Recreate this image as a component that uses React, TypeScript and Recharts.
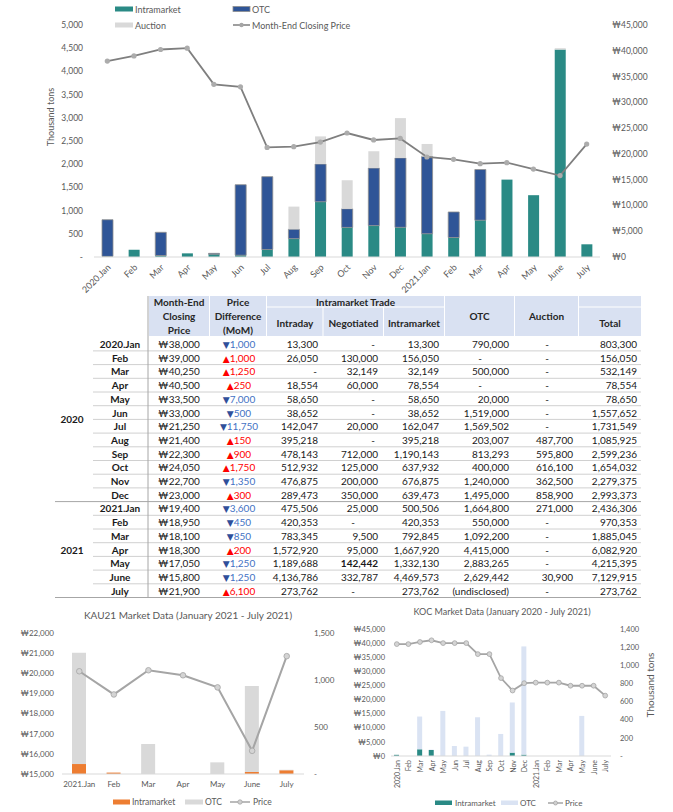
import React from 'react';
import { ComposedChart, Bar, Line, XAxis, YAxis } from 'recharts';

const FONT = "Lato, 'Noto Sans', 'DejaVu Sans', sans-serif";
const GREY_TXT = '#595959';

// ---------- shared categories ----------
const months = ['2020.Jan', 'Feb', 'Mar', 'Apr', 'May', 'Jun', 'Jul', 'Aug', 'Sep', 'Oct', 'Nov', 'Dec',
  '2021.Jan', 'Feb', 'Mar', 'Apr', 'May', 'June', 'July'];

// ---------- table values ----------
const closingPrice = [38000, 39000, 40250, 40500, 33500, 33000, 21250, 21400, 22300, 24050, 22700, 23000,
  19400, 18950, 18100, 18300, 17050, 15800, 21900];
const priceDiff = [-1000, 1000, 1250, 250, -7000, -500, -11750, 150, 900, 1750, -1350, 300,
  -3600, -450, -850, 200, -1250, -1250, 6100];
const intradayT = [13300, 26050, null, 18554, 58650, 38652, 142047, 395218, 478143, 512932, 476875, 289473,
  475506, 420353, 783345, 1572920, 1189688, 4136786, 273762];
const negotiatedT = [null, 130000, 32149, 60000, null, null, 20000, null, 712000, 125000, 200000, 350000,
  25000, null, 9500, 95000, 142442, 332787, null];
const intramarketT = [13300, 156050, 32149, 78554, 58650, 38652, 162047, 395218, 1190143, 637932, 676875, 639473,
  500506, 420353, 792845, 1667920, 1332130, 4469573, 273762];
const otcT = [790000, null, 500000, null, 20000, 1519000, 1569502, 203007, 813293, 400000, 1240000, 1495000,
  1664800, 550000, 1092200, 4415000, 2883265, 2629442, '(undisclosed)'];
const auctionT = [null, null, null, null, null, null, null, 487700, 595800, 616100, 362500, 858900,
  271000, null, null, null, null, 30900, null];
const totalT = [803300, 156050, 532149, 78554, 78650, 1557652, 1731549, 1085925, 2599236, 1654032, 2279375, 2993373,
  2436306, 970353, 1885045, 6082920, 4215395, 7129915, 273762];

// ---------- top chart (thousand tons) ----------
const topIntra = [13.3, 156.1, 32.1, 78.6, 58.7, 38.7, 162.0, 395.2, 1190.1, 637.9, 676.9, 639.5,
  500.5, 420.4, 792.8, 1667.9, 1332.1, 4469.6, 273.8];
const topOtc = [790, 0, 500, 0, 20, 1519, 1569.5, 203.0, 813.3, 400, 1240, 1495,
  1664.8, 550, 1092.2, 0, 0, 0, 0];
const topAuction = [0, 0, 0, 0, 0, 0, 0, 487.7, 595.8, 616.1, 362.5, 858.9,
  271, 0, 0, 0, 0, 30.9, 0];
const topLeftTicks = [0, 500, 1000, 1500, 2000, 2500, 3000, 3500, 4000, 4500, 5000];
const topRightTicks = [0, 5000, 10000, 15000, 20000, 25000, 30000, 35000, 40000, 45000];

// ---------- KAU21 chart ----------
const kauMonths = ['2021.Jan', 'Feb', 'Mar', 'Apr', 'May', 'June', 'July'];
const kauIntra = [106, 15, 0, 0, 0, 20, 40];
const kauOtc = [1185, 0, 319, 0, 124, 916, 5];
const kauPrice = [20100, 18950, 20150, 19900, 19300, 16150, 20850];
const kauLeftTicks = [15000, 16000, 17000, 18000, 19000, 20000, 21000, 22000];
const kauRightTicks = [0, 500, 1000, 1500];

// ---------- KOC chart ----------
const kocIntra = [13, 0, 74, 66, 0, 0, 0, 0, 0, 0, 37, 15, 0, 0, 0, 0, 0, 0, 0];
const kocOtc = [0, 0, 361, 4, 497, 110, 103, 427, 15, 243, 553, 1193, 0, 0, 0, 0, 442, 0, 0];
const kocPrice = [39650, 39650, 40400, 41000, 40000, 40000, 40000, 36100, 36100, 27600, 23200, 25800,
  26000, 26000, 26000, 24900, 24900, 24900, 21400];
const kocLeftTicks = [0, 5000, 10000, 15000, 20000, 25000, 30000, 35000, 40000, 45000];
const kocRightTicks = [0, 200, 400, 600, 800, 1000, 1200, 1400];

const won = (v: number) => '₩' + v.toLocaleString('en-US');
const num = (v: number) => (v === 0 ? '-' : v.toLocaleString('en-US'));

const TopTick = (props: any) => {
  const { x, y, payload } = props;
  return (
    <g transform={`translate(${x + 4},${y + 11})`}>
      <text textAnchor="end" transform="rotate(-45)" fontSize={9} fill={GREY_TXT} fontFamily={FONT}>
        {payload.value}
      </text>
    </g>
  );
};

const KocTick = (props: any) => {
  const { x, y, payload } = props;
  return (
    <g transform={`translate(${x + 3},${y + 4})`}>
      <text textAnchor="end" transform="rotate(-90)" fontSize={7} fill={GREY_TXT} fontFamily={FONT}>
        {payload.value}
      </text>
    </g>
  );
};

// table geometry (style only)
const ROW0 = 337.2;
const ROWH = 13.7;

function Table() {
  const els: any[] = [];
  const hdr = '#d9e1f2';
  const cells = [
    [149, 296, 60, 40], [210, 296, 56, 40],
    [267, 296, 177, 10.5],
    [267, 307.5, 55.5, 28.5], [323.5, 307.5, 59.5, 28.5], [384, 307.5, 60, 28.5],
    [445, 296, 69, 40], [515, 296, 63, 40],
    [579, 296, 62, 10.5], [579, 307.5, 62, 28.5],
  ];
  cells.forEach((c, i) => els.push(<rect key={'h' + i} x={c[0]} y={c[1]} width={c[2]} height={c[3]} fill={hdr} />));
  const hText = (k: string, x: number, y: number, t: string) =>
    els.push(<text key={k} x={x} y={y} textAnchor="middle" dominantBaseline="central" fontSize={10} fontWeight="bold" fill="#262626">{t}</text>);
  hText('a1', 179, 302, 'Month-End'); hText('a2', 179, 316, 'Closing'); hText('a3', 179, 329.5, 'Price');
  hText('b1', 238, 302, 'Price'); hText('b2', 238, 316, 'Difference'); hText('b3', 238, 329.5, '(MoM)');
  hText('c0', 355.5, 302, 'Intramarket Trade');
  hText('c1', 295, 323, 'Intraday'); hText('c2', 353.5, 323, 'Negotiated'); hText('c3', 414, 323, 'Intramarket');
  hText('d0', 479.5, 316, 'OTC'); hText('e0', 546.5, 316, 'Auction'); hText('f0', 610, 323, 'Total');

  for (let k = 1; k <= 19; k++) {
    const y = ROW0 + ROWH * k;
    const full = k === 12 || k === 19;
    els.push(<line key={'l' + k} x1={full ? 55 : 93} x2={641} y1={y} y2={y} stroke={full ? '#a6a6a6' : '#d0d0d0'} strokeWidth={1} />);
  }
  els.push(<line key="vl" x1={148} x2={148} y1={296} y2={ROW0 + ROWH * 19} stroke="#a6a6a6" strokeWidth={1} />);

  els.push(<text key="y20" x={72} y={(ROW0 + ROW0 + ROWH * 12) / 2} textAnchor="middle" dominantBaseline="central" fontSize={10} fontWeight="bold" fill="#1a1a1a">2020</text>);
  els.push(<text key="y21" x={72} y={(ROW0 + ROWH * 12 + ROW0 + ROWH * 19) / 2} textAnchor="middle" dominantBaseline="central" fontSize={10} fontWeight="bold" fill="#1a1a1a">2021</text>);

  const cellTxt = (k: string, x: number, y: number, t: string, anchor: string, bold?: boolean) =>
    els.push(<text key={k} x={x} y={y} textAnchor={anchor} dominantBaseline="central" fontSize={10} fontWeight={bold ? 'bold' : 'normal'} fill="#1a1a1a">{t}</text>);

  months.forEach((m, i) => {
    const cy = ROW0 + ROWH * i + ROWH / 2;
    cellTxt('m' + i, 120, cy, m, 'middle', true);
    cellTxt('p' + i, 179, cy, won(closingPrice[i]), 'middle');
    const d = priceDiff[i];
    const up = d > 0;
    els.push(
      <text key={'d' + i} x={239} y={cy} textAnchor="middle" dominantBaseline="central" fontSize={10}>
        <tspan fill={up ? '#ff0000' : '#2f4f9a'} fontSize={9}>{up ? '▲' : '▼'}</tspan>
        <tspan fill={up ? '#ff0000' : '#4472c4'}>{Math.abs(d).toLocaleString('en-US')}</tspan>
      </text>
    );
    const put = (key: string, v: any, right: number, dashX: number) => {
      if (v == null) cellTxt(key, dashX, cy, '-', 'middle');
      else cellTxt(key, right, cy, typeof v === 'string' ? v : v.toLocaleString('en-US'), 'end', key === 'ng16');
    };
    put('it' + i, intradayT[i], 318, 315);
    put('ng' + i, negotiatedT[i], 378, i >= 12 ? 353 : 373);
    put('im' + i, intramarketT[i], 439, 430);
    put('ot' + i, otcT[i], 509, 480);
    put('au' + i, auctionT[i], 573, 547);
    put('to' + i, totalT[i], 637, 630);
  });
  return <g fontFamily={FONT}>{els}</g>;
}

function Overlay() {
  const t = (k: string, x: number, y: number, s: string, fs: number, anchor = 'start') => (
    <text key={k} x={x} y={y} fontSize={fs} fill={GREY_TXT} dominantBaseline="central" textAnchor={anchor}>{s}</text>
  );
  return (
    <svg width={673} height={812} style={{ position: 'absolute', left: 0, top: 0, pointerEvents: 'none' }} fontFamily={FONT}>
      <rect x={115} y={6.5} width={18} height={5} fill="#2a8a85" />
      {t('l1', 135, 9, 'Intramarket', 9)}
      <rect x={233} y={6.5} width={17} height={5} fill="#2f5597" stroke="#8e8e8e" strokeWidth={0.8} />
      {t('l2', 252, 9, 'OTC', 9)}
      <rect x={115} y={22.5} width={18} height={5} fill="#d9d9d9" />
      {t('l3', 135, 25, 'Auction', 9)}
      <line x1={233} x2={250} y1={25} y2={25} stroke="#7f7f7f" strokeWidth={1.5} />
      <circle cx={241.5} cy={25} r={2.2} fill="#a6a6a6" />
      {t('l4', 252, 25, 'Month-End Closing Price', 9)}
      <text x={50} y={117} fontSize={9} fill={GREY_TXT} textAnchor="middle" dominantBaseline="central" transform="rotate(-90 50 117)">Thousand tons</text>

      <Table />

      {t('k0', 188, 615, 'KAU21 Market Data (January 2021 - July 2021)', 10, 'middle')}
      <rect x={113} y={799.5} width={17} height={5} fill="#ed7d31" />
      {t('k1', 132, 802, 'Intramarket', 8.5)}
      <rect x={185} y={799.5} width={18} height={5} fill="#d9d9d9" />
      {t('k2', 205, 802, 'OTC', 8.5)}
      <line x1={230} x2={250} y1={802} y2={802} stroke="#a5a5a5" strokeWidth={1.5} />
      <circle cx={240} cy={802} r={2.2} fill="#d0d0d0" stroke="#a5a5a5" strokeWidth={0.8} />
      {t('k3', 253, 802, 'Price', 8.5)}

      {t('c0', 502, 611, 'KOC Market Data (January 2020 - July 2021)', 9, 'middle')}
      <text x={650} y={685} fontSize={10} fill={GREY_TXT} textAnchor="middle" dominantBaseline="central" transform="rotate(-90 650 685)">Thousand tons</text>
      <rect x={435} y={800.5} width={17} height={4.5} fill="#2a8a85" />
      {t('c1', 455, 803, 'Intramarket', 8)}
      <rect x={501} y={800.5} width={17} height={4.5} fill="#dae3f3" />
      {t('c2', 520, 803, 'OTC', 8)}
      <line x1={548} x2={563} y1={803} y2={803} stroke="#a5a5a5" strokeWidth={1.5} />
      <circle cx={555.5} cy={803} r={2} fill="#d0d0d0" stroke="#a5a5a5" strokeWidth={0.8} />
      {t('c3', 565, 803, 'Price', 8)}
    </svg>
  );
}

export default function App() {
  const topData = months.map((m, i) => ({ m, intra: topIntra[i], otc: topOtc[i], auction: topAuction[i], price: closingPrice[i] }));
  const kauData = kauMonths.map((m, i) => ({ m, intra: kauIntra[i], otc: kauOtc[i], price: kauPrice[i] }));
  const kocData = months.map((m, i) => ({ m, intra: kocIntra[i], otc: kocOtc[i], price: kocPrice[i] }));

  const tickStyle = (fs: number) => ({ fontSize: fs, fill: GREY_TXT, fontFamily: FONT });

  return (
    <div style={{ position: 'absolute', left: 0, top: 0, width: 673, height: 812, background: '#fff', fontFamily: FONT }}>
      <div style={{ position: 'absolute', left: 0, top: 0 }}>
        <ComposedChart width={673} height={296} data={topData} margin={{ top: 25, right: 8, bottom: 0, left: 34 }} barSize={11}>
          <XAxis dataKey="m" interval={0} height={39} tickSize={0} tickMargin={0} tickLine={false}
            axisLine={{ stroke: '#d9d9d9' }} tick={<TopTick />} />
          <YAxis yAxisId="left" width={60} domain={[0, 5000]} ticks={topLeftTicks} interval={0} tickFormatter={num}
            axisLine={false} tickLine={false} tickSize={0} tickMargin={11} tick={tickStyle(8.5)} />
          <YAxis yAxisId="right" orientation="right" width={65} domain={[0, 45000]} ticks={topRightTicks} interval={0}
            tickFormatter={won} axisLine={false} tickLine={false} tickSize={0} tickMargin={12} tick={tickStyle(8.5)} />
          <Bar yAxisId="left" dataKey="intra" stackId="a" fill="#2a8a85" isAnimationActive={false} />
          <Bar yAxisId="left" dataKey="otc" stackId="a" fill="#2f5597" stroke="#8e8e8e" strokeWidth={0.8} isAnimationActive={false} />
          <Bar yAxisId="left" dataKey="auction" stackId="a" fill="#d9d9d9" isAnimationActive={false} />
          <Line yAxisId="right" dataKey="price" stroke="#7f7f7f" strokeWidth={1.8}
            dot={{ r: 2.6, fill: '#acacac', stroke: '#acacac', strokeWidth: 0 }} isAnimationActive={false} />
        </ComposedChart>
      </div>

      <div style={{ position: 'absolute', left: 0, top: 600 }}>
        <ComposedChart width={340} height={212} data={kauData} margin={{ top: 33, right: 6, bottom: 0, left: 2 }} barSize={14}>
          <XAxis dataKey="m" interval={0} height={38} tickSize={0} tickMargin={7} tickLine={false}
            axisLine={{ stroke: '#d9d9d9' }} tick={tickStyle(8)} />
          <YAxis yAxisId="left" width={60} domain={[15000, 22000]} ticks={kauLeftTicks} interval={0} tickFormatter={won}
            axisLine={false} tickLine={false} tickSize={0} tickMargin={8} tick={tickStyle(8)} />
          <YAxis yAxisId="right" orientation="right" width={30} domain={[0, 1500]} ticks={kauRightTicks} interval={0}
            tickFormatter={num} axisLine={false} tickLine={false} tickSize={0} tickMargin={10} tick={tickStyle(8)} />
          <Bar yAxisId="right" dataKey="intra" stackId="k" fill="#ed7d31" isAnimationActive={false} />
          <Bar yAxisId="right" dataKey="otc" stackId="k" fill="#d9d9d9" isAnimationActive={false} />
          <Line yAxisId="left" dataKey="price" stroke="#a5a5a5" strokeWidth={2}
            dot={{ r: 2.8, fill: '#d4d4d4', stroke: '#a5a5a5', strokeWidth: 0.8 }} isAnimationActive={false} />
        </ComposedChart>
      </div>

      <div style={{ position: 'absolute', left: 330, top: 600 }}>
        <ComposedChart width={343} height={212} data={kocData} margin={{ top: 29, right: 2, bottom: 0, left: 1 }} barSize={5}>
          <XAxis dataKey="m" interval={0} height={56} tickSize={0} tickMargin={0} tickLine={false}
            axisLine={{ stroke: '#d9d9d9' }} tick={<KocTick />} />
          <YAxis yAxisId="left" width={60} domain={[0, 45000]} ticks={kocLeftTicks} interval={0} tickFormatter={won}
            axisLine={false} tickLine={false} tickSize={0} tickMargin={6} tick={tickStyle(7.5)} />
          <YAxis yAxisId="right" orientation="right" width={60} domain={[0, 1400]} ticks={kocRightTicks} interval={0}
            tickFormatter={num} axisLine={false} tickLine={false} tickSize={0} tickMargin={9} tick={tickStyle(7.5)} />
          <Bar yAxisId="right" dataKey="intra" stackId="c" fill="#2a8a85" isAnimationActive={false} />
          <Bar yAxisId="right" dataKey="otc" stackId="c" fill="#dae3f3" isAnimationActive={false} />
          <Line yAxisId="left" dataKey="price" stroke="#a5a5a5" strokeWidth={1.8}
            dot={{ r: 2.4, fill: '#d4d4d4', stroke: '#a5a5a5', strokeWidth: 0.8 }} isAnimationActive={false} />
        </ComposedChart>
      </div>

      <Overlay />
    </div>
  );
}
